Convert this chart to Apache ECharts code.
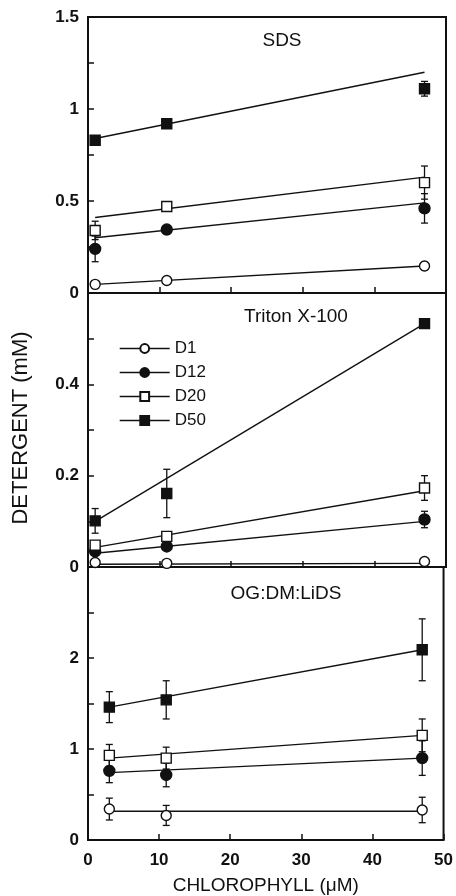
<!DOCTYPE html>
<html>
<head>
<meta charset="utf-8">
<script src="https://cdn.jsdelivr.net/npm/echarts/dist/echarts.min.js"></script>
<style>
  html, body { margin: 0; padding: 0; background: #fff; }
  #chart { width: 456px; height: 896px; }
</style>
</head>
<body>
<div id="chart"></div>
<script>
"use strict";

// ── Datos ──────────────────────────────────────────────────────────────────
const names = ["D1", "D12", "D20", "D50"];
const xSDS = [1, 11, 47];
const xTriton = [1, 11, 47];
const xOG = [3, 11, 47];

// medias por serie (D1, D12, D20, D50)
const sdsMean = [[0.047, 0.068, 0.147], [0.24, 0.345, 0.46], [0.34, 0.47, 0.60], [0.83, 0.92, 1.11]];
const sdsErr  = [[0.012, 0.01, 0.02], [0.07, 0.012, 0.08], [0.05, 0.012, 0.09], [0.015, 0.012, 0.04]];
const sdsFit  = [[0.047, 0.147], [0.30, 0.49], [0.41, 0.63], [0.84, 1.20]];

const tritonMean = [[0.010, 0.008, 0.012], [0.034, 0.045, 0.104], [0.048, 0.067, 0.173], [0.101, 0.161, 0.533]];
const tritonErr  = [[0.003, 0.003, 0.004], [0.005, 0.005, 0.018], [0.008, 0.006, 0.027], [0.027, 0.053, 0.005]];
const tritonFit  = [[0.006, 0.008], [0.030, 0.100], [0.043, 0.167], [0.100, 0.533]];

const ogMean = [[0.34, 0.27, 0.33], [0.76, 0.715, 0.90], [0.93, 0.90, 1.15], [1.46, 1.54, 2.09]];
const ogErr  = [[0.12, 0.11, 0.14], [0.13, 0.13, 0.19], [0.12, 0.12, 0.18], [0.17, 0.21, 0.34]];
const ogFit  = [[0.316, 0.316], [0.74, 0.90], [0.90, 1.15], [1.46, 2.09]];

const panelTitles = ["SDS", "Triton X-100", "OG:DM:LiDS"];
const yMax = [1.5, 0.6, 3];
const yTickStep = [0.25, 0.1, 0.5];
const yLabelStep = [0.5, 0.2, 1];

// ── Estilo ─────────────────────────────────────────────────────────────────
const FONT = "'Liberation Sans', Arial, sans-serif";
const INK = "#111";
const symbols = ["circle", "circle", "rect", "rect"];
const fills = ["#fff", INK, "#fff", INK];
const symSizes = [10, 11, 10, 10];

const grids = [
  { left: 88, right: 10, top: 17, height: 276 },
  { left: 88, right: 10, top: 293, height: 274 },
  { left: 88, right: 10, top: 567, height: 276 },
];

function errorBarSeries(gi, xs, mean, err) {
  const data = xs.map((x, i) => [x, mean[i] - err[i], mean[i] + err[i]]);
  return {
    type: "custom",
    xAxisIndex: gi, yAxisIndex: gi,
    silent: true, z: 3,
    data,
    renderItem(params, api) {
      const lo = api.coord([api.value(0), api.value(1)]);
      const hi = api.coord([api.value(0), api.value(2)]);
      const w = 3.5;
      const st = { stroke: INK, lineWidth: 1.3 };
      return {
        type: "group",
        children: [
          { type: "line", shape: { x1: lo[0], y1: lo[1], x2: hi[0], y2: hi[1] }, style: st },
          { type: "line", shape: { x1: lo[0] - w, y1: lo[1], x2: lo[0] + w, y2: lo[1] }, style: st },
          { type: "line", shape: { x1: hi[0] - w, y1: hi[1], x2: hi[0] + w, y2: hi[1] }, style: st },
        ],
      };
    },
  };
}

function panelSeries(gi, xs, mean, err, fit) {
  const out = [];
  names.forEach((nm, k) => {
    // recta de ajuste
    out.push({
      type: "line", xAxisIndex: gi, yAxisIndex: gi, silent: true, z: 2,
      symbol: "none",
      data: [[xs[0], fit[k][0]], [xs[xs.length - 1], fit[k][1]]],
      lineStyle: { color: INK, width: 1.4 },
    });
    out.push(errorBarSeries(gi, xs, mean[k], err[k]));
    // puntos
    out.push({
      name: nm, type: "line", xAxisIndex: gi, yAxisIndex: gi, z: 4,
      data: xs.map((x, i) => [x, mean[k][i]]),
      symbol: symbols[k], symbolSize: symSizes[k], showAllSymbol: true,
      lineStyle: { width: 0, opacity: 0 },
      itemStyle: { color: fills[k], borderColor: INK, borderWidth: 1.4, opacity: 1 },
    });
  });
  return out;
}

const xAxes = grids.map((g, i) => ({
  type: "value", gridIndex: i, min: 0, max: 50, interval: 10,
  axisLine: { show: false },
  axisTick: { show: true, inside: true, length: 6, lineStyle: { color: INK, width: 1.5 } },
  axisLabel: {
    show: i === 2, margin: 12,
    fontFamily: FONT, fontSize: 17, fontWeight: "bold", color: INK,
  },
  splitLine: { show: false },
  name: i === 2 ? "CHLOROPHYLL (\u03bcM)" : "",
  nameLocation: "middle", nameGap: 36,
  nameTextStyle: { fontFamily: FONT, fontSize: 19, color: INK },
}));

const yAxes = grids.map((g, i) => ({
  type: "value", gridIndex: i, min: 0, max: yMax[i], interval: yTickStep[i],
  axisLine: { show: false },
  axisTick: { show: true, inside: true, length: 6, lineStyle: { color: INK, width: 1.5 } },
  axisLabel: {
    margin: 9, fontFamily: FONT, fontSize: 17, fontWeight: "bold", color: INK,
    formatter(v) {
      const r = v / yLabelStep[i];
      if (Math.abs(r - Math.round(r)) > 1e-6) return "";
      if (i > 0 && Math.abs(v - yMax[i]) < 1e-6) return "";
      return String(Math.round(v * 100) / 100);
    },
  },
  splitLine: { show: false },
}));

const series = [].concat(
  panelSeries(0, xSDS, sdsMean, sdsErr, sdsFit),
  panelSeries(1, xTriton, tritonMean, tritonErr, tritonFit),
  panelSeries(2, xOG, ogMean, ogErr, ogFit)
);

const chart = echarts.init(document.getElementById("chart"), null, { renderer: "canvas" });
chart.setOption({
  animation: false,
  backgroundColor: "#fff",
  grid: grids.map(g => ({ ...g, show: true, borderColor: INK, borderWidth: 2, backgroundColor: "transparent" })),
  xAxis: xAxes,
  yAxis: yAxes,
  title: [
    { text: panelTitles[0], left: 277, top: 26, textAlign: "center" },
    { text: panelTitles[1], left: 291, top: 302, textAlign: "center" },
    { text: panelTitles[2], left: 281, top: 579, textAlign: "center" },
  ].map(t => ({ ...t, textStyle: { fontFamily: FONT, fontSize: 19, fontWeight: "normal", color: INK } })),
  legend: {
    data: names,
    orient: "vertical",
    left: 114, top: 335,
    itemWidth: 50, itemHeight: 11, itemGap: 7,
    textStyle: { fontFamily: FONT, fontSize: 17, color: INK },
    lineStyle: { color: INK, width: 1.4, opacity: 1 },
    selectedMode: false,
  },
  graphic: [{
    type: "text", x: 21, y: 428, rotation: Math.PI / 2,
    style: {
      text: "DETERGENT (mM)", fill: INK,
      font: "22px " + FONT, textAlign: "center", textVerticalAlign: "middle",
    },
  }],
  series,
});
</script>
</body>
</html>
